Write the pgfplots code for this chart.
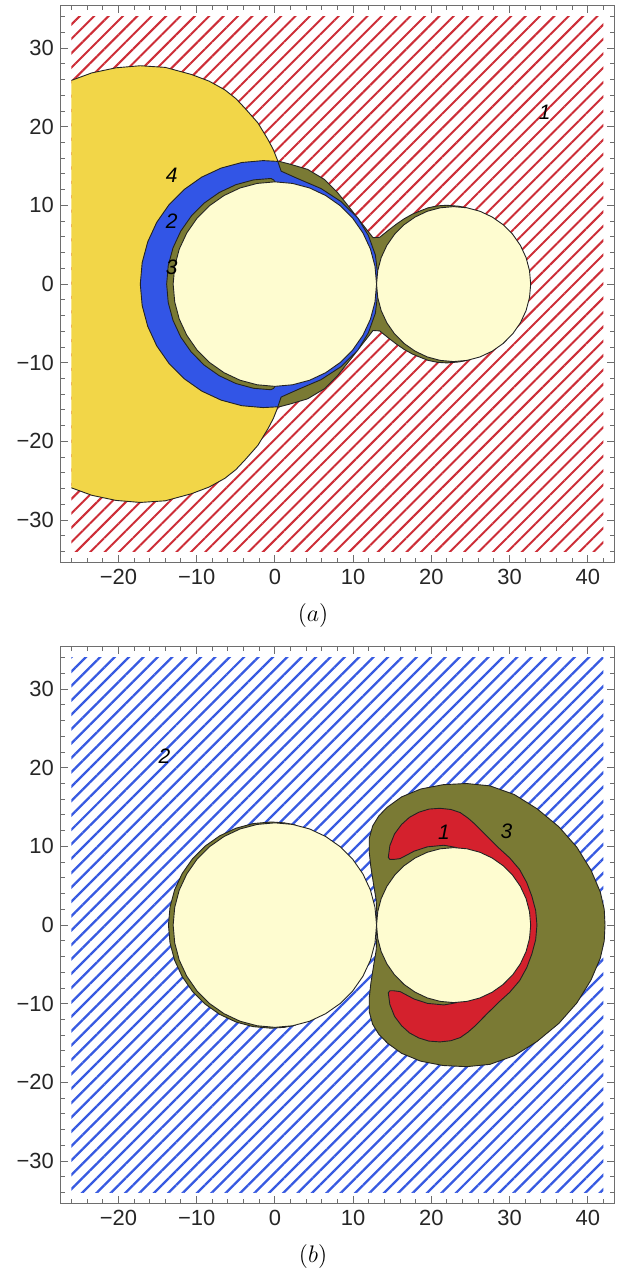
\documentclass[border=0pt]{standalone}
\usepackage[no-math]{fontspec}
\setmainfont{Liberation Sans}
\usepackage{pgfplots}
\pgfplotsset{compat=1.18}
\usetikzlibrary{patterns.meta}
\definecolor{hatchred}{RGB}{205,45,55}
\definecolor{hatchblue}{RGB}{55,90,225}
\definecolor{regyellow}{RGB}{242,214,72}
\definecolor{regblue}{RGB}{50,85,230}
\definecolor{regolive}{RGB}{122,122,52}
\definecolor{reglight}{RGB}{254,252,208}
\definecolor{regred}{RGB}{212,33,45}
\definecolor{edgecol}{RGB}{35,35,35}
\definecolor{framegray}{RGB}{110,110,110}
\tikzset{lab/.style={font=\fontsize{10.5}{12}\selectfont\itshape, text=black},
  reg/.style={draw=edgecol, line width=0.45pt, line join=round}}
\pgfplotsset{panel/.style={
  scale only axis, width=277.5pt, height=279pt,
  xmin=-27.36, xmax=43.36, ymin=-35.36, ymax=35.36,
  xtick={-20,-10,0,10,20,30,40},
  xticklabels={−20,−10,0,10,20,30,40},
  ytick={-30,-20,-10,0,10,20,30},
  yticklabels={−30,−20,−10,0,10,20,30},
  minor xtick={-26,-24,...,42},
  minor ytick={-34,-32,...,34},
  tick align=inside,
  xtick pos=both, ytick pos=both,
  xticklabel pos=lower, yticklabel pos=left,
  major tick length=3.5pt, minor tick length=2pt,
  axis line style={draw=framegray, line width=0.5pt},
  tick style={draw=framegray, line width=0.5pt},
  tick label style={font=\fontsize{11}{13}\selectfont, text=black!85},
  axis on top,
  no markers,
}}
\begin{document}
\begin{tikzpicture}
\path[use as bounding box] (-30.5pt,-357.5pt) rectangle (283.5pt,282pt);
% ---------------- panel (a) ----------------
\begin{axis}[panel, at={(0pt,0pt)}, anchor=south west]
\addplot[draw=none, pattern={Lines[angle=45,distance=5.1pt,line width=1.0pt]}, pattern color=hatchred]
  coordinates {(-26,-34) (42,-34) (42,34) (-26,34)} --cycle;
% region 4 (yellow)
\addplot[fill=regyellow, draw=none] coordinates {(-26,25.9) (-23.4,26.85) (-20.3,27.5) (-17.2,27.76) (-14,27.55) (-10.66,26.65) (-8.4,25.8) (-6.4,24.7) (-5,23.6) (-3.86,22.4) (-2.17,20.5) (-0.89,18.4) (-0.2,17.1) (0.38,15.65) (-2,14.5) (-2,-14.5) (0.38,-15.65) (-0.2,-17.1) (-0.89,-18.4) (-2.17,-20.5) (-3.86,-22.4) (-5,-23.6) (-6.4,-24.7) (-8.4,-25.8) (-10.66,-26.65) (-14,-27.55) (-17.2,-27.76) (-20.3,-27.5) (-23.4,-26.85) (-26,-25.9)} --cycle;
\addplot[reg, fill=none] coordinates {(-26,25.9) (-23.4,26.85) (-20.3,27.5) (-17.2,27.76) (-14,27.55) (-10.66,26.65) (-8.4,25.8) (-6.4,24.7) (-5,23.6) (-3.86,22.4) (-2.17,20.5) (-0.89,18.4) (-0.2,17.1) (0.38,15.65)};
\addplot[reg, fill=none] coordinates {(-26,-25.9) (-23.4,-26.85) (-20.3,-27.5) (-17.2,-27.76) (-14,-27.55) (-10.66,-26.65) (-8.4,-25.8) (-6.4,-24.7) (-5,-23.6) (-3.86,-22.4) (-2.17,-20.5) (-0.89,-18.4) (-0.2,-17.1) (0.38,-15.65)};
% region 3 (olive, outer)
\addplot[reg, fill=regolive] coordinates {(0.38,15.65) (2.08,15.21) (4.2,14.58) (6.33,13.31) (8.03,11.62) (9.72,9.51) (11.21,7.6) (12.55,5.9) (13.4,5.95) (14.39,6.75) (15.5,7.6) (16.52,8.3) (17.6,8.9) (18.64,9.33) (19.6,9.7) (20.8,9.95) (22,10.02) (23.5,9.9) (24.5,9.71) (24.5,-9.71) (23.5,-9.9) (22,-10.02) (20.8,-9.95) (19.6,-9.7) (18.64,-9.33) (17.6,-8.9) (16.52,-8.3) (15.5,-7.6) (14.39,-6.75) (13.4,-5.95) (12.55,-5.9) (11.21,-7.6) (9.72,-9.51) (8.03,-11.62) (6.33,-13.31) (4.2,-14.58) (2.08,-15.21) (0.38,-15.65) (-1,-14) (-1,14)} --cycle;
% region 2 (blue)
\addplot[reg, fill=regblue] coordinates {(0.38,15.6) (-1.5,15.7) (-4.23,15.46) (-6.87,14.75) (-9.35,13.60) (-11.59,12.03) (-13.53,10.09) (-15.10,7.85) (-16.25,5.37) (-16.96,2.73) (-17.2,0) (-16.96,-2.73) (-16.25,-5.37) (-15.10,-7.85) (-13.53,-10.09) (-11.59,-12.03) (-9.35,-13.60) (-6.87,-14.75) (-4.23,-15.46) (-1.5,-15.7) (0.38,-15.6) (0.8,-14.36) (2.95,-13.4) (5.9,-12.15) (8.45,-10.5) (10.6,-8.4) (11.95,-6.2) (12.85,-3.7) (13.1,-1.6) (13.0,0) (13.1,1.6) (12.85,3.7) (11.95,6.2) (10.6,8.4) (8.45,10.5) (5.9,12.15) (2.95,13.4) (0.8,14.36)} --cycle;
% region 3 (olive, inner crescent)
\addplot[reg, fill=regolive] coordinates {(0,12.99) (-0.15,13.25) (-0.5,13.43) (-2.71,13.25) (-4.98,12.64) (-7.10,11.65) (-9.02,10.31) (-10.68,8.65) (-12.03,6.73) (-13.02,4.60) (-13.63,2.34) (-13.83,0) (-13.63,-2.34) (-13.02,-4.60) (-12.03,-6.73) (-10.68,-8.65) (-9.02,-10.31) (-7.10,-11.65) (-4.98,-12.64) (-2.71,-13.25) (-0.5,-13.43) (-0.15,-13.25) (0,-12.99) (0.5,-12) (0.5,12)} --cycle;
% light discs
\addplot[reg, fill=reglight] coordinates {(13,0) (12.80,2.26) (12.22,4.45) (11.26,6.5) (9.96,8.36) (8.36,9.96) (6.5,11.26) (4.45,12.22) (2.26,12.80) (0,13) (-2.26,12.80) (-4.45,12.22) (-6.5,11.26) (-8.36,9.96) (-9.96,8.36) (-11.26,6.5) (-12.22,4.45) (-12.80,2.26) (-13,0) (-12.80,-2.26) (-12.22,-4.45) (-11.26,-6.5) (-9.96,-8.36) (-8.36,-9.96) (-6.5,-11.26) (-4.45,-12.22) (-2.26,-12.80) (0,-13) (2.26,-12.80) (4.45,-12.22) (6.5,-11.26) (8.36,-9.96) (9.96,-8.36) (11.26,-6.5) (12.22,-4.45) (12.80,-2.26)} --cycle;
\addplot[reg, fill=reglight] coordinates {(32.70,0) (32.55,1.71) (32.11,3.37) (31.38,4.93) (30.40,6.33) (29.18,7.55) (27.78,8.53) (26.22,9.26) (24.56,9.70) (22.85,9.85) (21.14,9.70) (19.48,9.26) (17.93,8.53) (16.52,7.55) (15.30,6.33) (14.32,4.93) (13.59,3.37) (13.15,1.71) (13.0,0) (13.15,-1.71) (13.59,-3.37) (14.32,-4.93) (15.30,-6.33) (16.52,-7.55) (17.93,-8.53) (19.48,-9.26) (21.14,-9.70) (22.85,-9.85) (24.56,-9.70) (26.22,-9.26) (27.78,-8.53) (29.18,-7.55) (30.40,-6.33) (31.38,-4.93) (32.11,-3.37) (32.55,-1.71)} --cycle;
\node[lab] at (axis cs:34.5,21.8) {1};
\node[lab] at (axis cs:-13.2,13.8) {4};
\node[lab] at (axis cs:-13.2,8.0) {2};
\node[lab] at (axis cs:-13.2,2.1) {3};
\end{axis}
\node[font=\fontsize{12}{14}\selectfont] at (126.5pt,-26.5pt) {$(a)$};
% ---------------- panel (b) ----------------
\begin{axis}[panel, at={(0pt,-321.5pt)}, anchor=south west]
\addplot[draw=none, pattern={Lines[angle=45,distance=5.1pt,line width=1.15pt]}, pattern color=hatchblue]
  coordinates {(-26,-34) (42,-34) (42,34) (-26,34)} --cycle;
% region 3 (olive, large)
\addplot[reg, fill=regolive] coordinates {(12.95,0) (13.03,1.5) (12.95,3.2) (12.6,5.3) (12.27,7.4) (12.06,9.3) (12.06,11.0) (12.5,12.6) (13.3,13.9) (14.39,15.0) (16.2,16.3) (18.64,17.3) (21.5,17.85) (24.5,18.0) (27.5,17.7) (30.6,16.6) (33.5,14.8) (36.3,12.5) (38.6,9.9) (40.4,7.0) (41.6,4.2) (42.1,2.0) (42.2,0) (42.1,-2.0) (41.6,-4.2) (40.4,-7.0) (38.6,-9.9) (36.3,-12.5) (33.5,-14.8) (30.6,-16.6) (27.5,-17.7) (24.5,-18.0) (21.5,-17.85) (18.64,-17.3) (16.2,-16.3) (14.39,-15.0) (13.3,-13.9) (12.5,-12.6) (12.06,-11.0) (12.06,-9.3) (12.27,-7.4) (12.6,-5.3) (12.95,-3.2) (13.03,-1.5)} --cycle;
% region 1 (red)
\addplot[reg, fill=regred] coordinates {(14.5,8.6) (14.7,10.1) (15.3,11.6) (16.2,12.8) (17.2,13.7) (18.4,14.35) (19.7,14.75) (21.1,14.85) (22.5,14.7) (23.7,14.3) (24.7,13.6) (25.5,12.9) (26.4,12.0) (27.2,11.2) (28.55,9.87) (30.02,8.54) (31.28,7.07) (32.2,5.4) (32.86,3.64) (33.34,1.85) (33.5,0) (33.34,-1.85) (32.86,-3.64) (32.2,-5.4) (31.28,-7.07) (30.02,-8.54) (28.55,-9.87) (27.2,-11.2) (26.4,-12.0) (25.5,-12.9) (24.7,-13.6) (23.7,-14.3) (22.5,-14.7) (21.1,-14.85) (19.7,-14.75) (18.4,-14.35) (17.2,-13.7) (16.2,-12.8) (15.3,-11.6) (14.7,-10.1) (14.5,-8.6) (14.7,-8.35) (15.2,-8.35) (16.0,-8.45) (17.8,-9.4) (19.5,-9.95) (21.6,-10.15) (22.5,-10.0) (23.3,-9.84) (23.3,9.84) (22.5,10.0) (21.6,10.15) (19.5,9.95) (17.8,9.4) (16.0,8.45) (15.2,8.35) (14.7,8.35)} --cycle;
% region 3 (olive crescent, left disc)
\addplot[reg, fill=regolive] coordinates {(2.6,12.74) (1.2,13.0) (-0.49,13.11) (-2.77,12.91) (-4.97,12.32) (-7.05,11.35) (-8.92,10.04) (-10.53,8.43) (-11.84,6.56) (-12.81,4.48) (-13.40,2.28) (-13.6,0) (-13.40,-2.28) (-12.81,-4.48) (-11.84,-6.56) (-10.53,-8.43) (-8.92,-10.04) (-7.05,-11.35) (-4.97,-12.32) (-2.77,-12.91) (-0.49,-13.11) (1.2,-13.0) (2.6,-12.74) (1.5,-11) (1.5,11)} --cycle;
% light discs
\addplot[reg, fill=reglight] coordinates {(13,0) (12.80,2.26) (12.22,4.45) (11.26,6.5) (9.96,8.36) (8.36,9.96) (6.5,11.26) (4.45,12.22) (2.26,12.80) (0,13) (-2.26,12.80) (-4.45,12.22) (-6.5,11.26) (-8.36,9.96) (-9.96,8.36) (-11.26,6.5) (-12.22,4.45) (-12.80,2.26) (-13,0) (-12.80,-2.26) (-12.22,-4.45) (-11.26,-6.5) (-9.96,-8.36) (-8.36,-9.96) (-6.5,-11.26) (-4.45,-12.22) (-2.26,-12.80) (0,-13) (2.26,-12.80) (4.45,-12.22) (6.5,-11.26) (8.36,-9.96) (9.96,-8.36) (11.26,-6.5) (12.22,-4.45) (12.80,-2.26)} --cycle;
\addplot[reg, fill=reglight] coordinates {(32.70,0) (32.55,1.71) (32.11,3.37) (31.38,4.93) (30.40,6.33) (29.18,7.55) (27.78,8.53) (26.22,9.26) (24.56,9.70) (22.85,9.85) (21.14,9.70) (19.48,9.26) (17.93,8.53) (16.52,7.55) (15.30,6.33) (14.32,4.93) (13.59,3.37) (13.15,1.71) (13.0,0) (13.15,-1.71) (13.59,-3.37) (14.32,-4.93) (15.30,-6.33) (16.52,-7.55) (17.93,-8.53) (19.48,-9.26) (21.14,-9.70) (22.85,-9.85) (24.56,-9.70) (26.22,-9.26) (27.78,-8.53) (29.18,-7.55) (30.40,-6.33) (31.38,-4.93) (32.11,-3.37) (32.55,-1.71)} --cycle;
\node[lab] at (axis cs:-14.1,21.5) {2};
\node[lab] at (axis cs:21.6,11.8) {1};
\node[lab] at (axis cs:29.6,11.9) {3};
\end{axis}
\node[font=\fontsize{12}{14}\selectfont] at (126.5pt,-348pt) {$(b)$};
\end{tikzpicture}
\end{document}
